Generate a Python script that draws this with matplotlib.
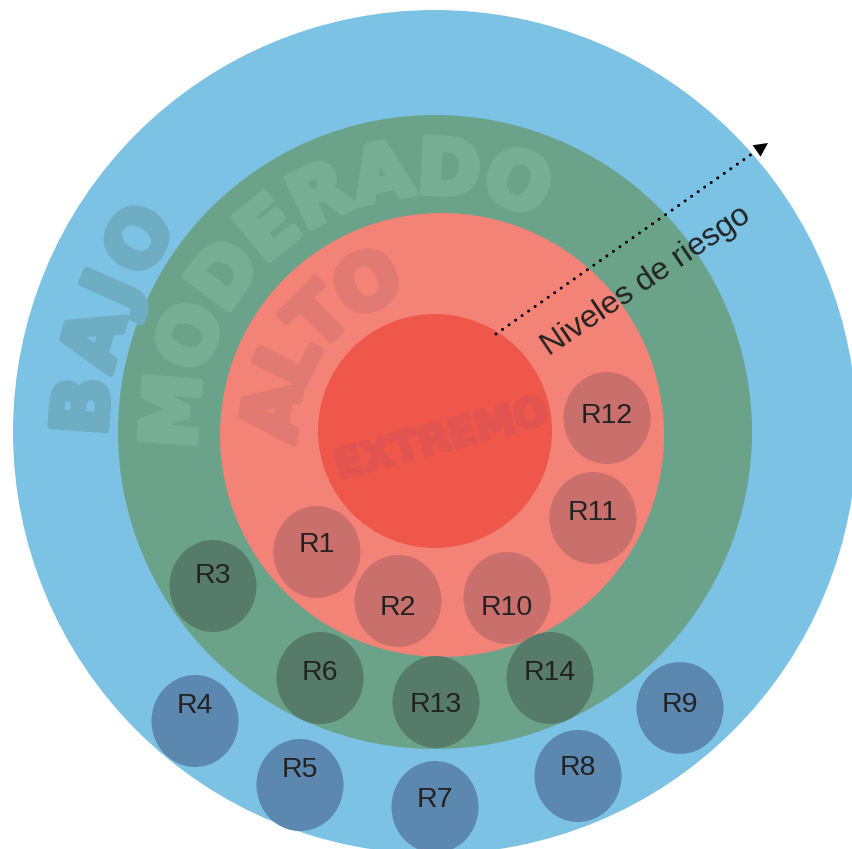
import numpy as np
import matplotlib
matplotlib.use('Agg')
import matplotlib.pyplot as plt
import matplotlib.patheffects as pe
from matplotlib.patches import Circle, Ellipse

# niveles de riesgo (de fuera hacia dentro)
ring_names = ['BAJO', 'MODERADO', 'ALTO', 'EXTREMO']
ring_cx = [435, 435, 442, 435]
ring_cy = [432, 432, 435, 431]
ring_r = [422, 317, 222, 117]

# riesgos
risk_labels = ['R1', 'R2', 'R3', 'R4', 'R5', 'R6', 'R7',
               'R8', 'R9', 'R10', 'R11', 'R12', 'R13', 'R14']
risk_level = ['ALTO', 'ALTO', 'MODERADO', 'BAJO', 'BAJO', 'MODERADO', 'BAJO',
              'BAJO', 'BAJO', 'ALTO', 'ALTO', 'ALTO', 'MODERADO', 'MODERADO']
risk_x = [317, 398, 213, 195, 300, 320, 435, 578, 680, 507, 593, 607, 436, 550]
risk_y = [552, 601, 586, 721, 785, 678, 807, 776, 708, 598, 518, 418, 702, 678]

# estilos
ring_colors = ['#7cc2e4', '#6aa38a', '#f38376', '#ef574b']
word_colors = ['#6fadc3', '#76ae94', '#e07a72', '#e1544f']
bubble_colors = {'BAJO': '#5c87af', 'MODERADO': '#577b6a', 'ALTO': '#c9706c'}
label_dy = [-10, 4, -13, -18, -18, -8, -10, -11, -6, 7, -8, -5, 0, -8]

W, H = 853, 849
fig = plt.figure(figsize=(W / 100, H / 100), dpi=100)
ax = fig.add_axes([0, 0, 1, 1])
ax.set_xlim(0, W)
ax.set_ylim(H, 0)
ax.axis('off')

for cx, cy, r, c in zip(ring_cx, ring_cy, ring_r, ring_colors):
    ax.add_patch(Circle((cx, cy), r, color=c, lw=0))

renderer = fig.canvas.get_renderer()
word_font = dict(family='DejaVu Sans', weight='bold')


def arc_text(word, cx, cy, r_mid, start_deg, size, color, tracking=0.0, stroke=4.5):
    # letras a lo largo del arco, en sentido horario, con la parte de arriba hacia fuera
    theta = np.radians(start_deg)
    cap = size * 100 / 72 * 0.729
    r_base = r_mid - cap / 2
    fx = [pe.withStroke(linewidth=stroke, foreground=color)]
    for ch in word:
        t = ax.text(0, 0, ch, fontsize=size, **word_font)
        w = t.get_window_extent(renderer).width
        t.remove()
        mid = theta - (w / 2) / r_mid
        ax.text(cx + r_base * np.cos(mid), cy - r_base * np.sin(mid), ch,
                fontsize=size, color=color, ha='center', va='baseline',
                rotation=np.degrees(mid) - 90, rotation_mode='anchor',
                path_effects=fx, **word_font)
        theta -= (w + tracking) / r_mid


arc_text(ring_names[0], 435, 432, 356, 180.5, 55, word_colors[0], tracking=10)
arc_text(ring_names[1], 435, 432, 266, 183.5, 55, word_colors[1], tracking=7)
arc_text(ring_names[2], 435, 432, 166, 183, 55, word_colors[2], tracking=2)
ax.text(442, 440, ring_names[3], fontsize=29, color=word_colors[3], ha='center', va='center',
        rotation=15, rotation_mode='anchor',
        path_effects=[pe.withStroke(linewidth=2.5, foreground=word_colors[3])], **word_font)

label_font = dict(family=['Liberation Sans', 'DejaVu Sans'])
for lab, lvl, x, y, dy in zip(risk_labels, risk_level, risk_x, risk_y, label_dy):
    ax.add_patch(Ellipse((x, y), 87, 92, color=bubble_colors[lvl], lw=0))
    ax.text(x, y + dy + 10, lab, fontsize=20.5, color='#222222', ha='center', va='baseline',
            **label_font)

# flecha punteada
ax.plot([496, 756], [334, 151], color='black', lw=2.2,
        linestyle=(0, (0.01, 2.6)), dash_capstyle='round')
ax.annotate('', xy=(768, 143), xytext=(750, 155.5),
            arrowprops=dict(arrowstyle='-|>,head_length=1.0,head_width=0.5',
                            color='black', lw=0, shrinkA=0, shrinkB=0))
ax.text(646, 281, 'Niveles de riesgo', fontsize=23, color='#222222', ha='center', va='center',
        rotation=34, rotation_mode='anchor', **label_font)

fig.savefig('out.png', dpi=100)
